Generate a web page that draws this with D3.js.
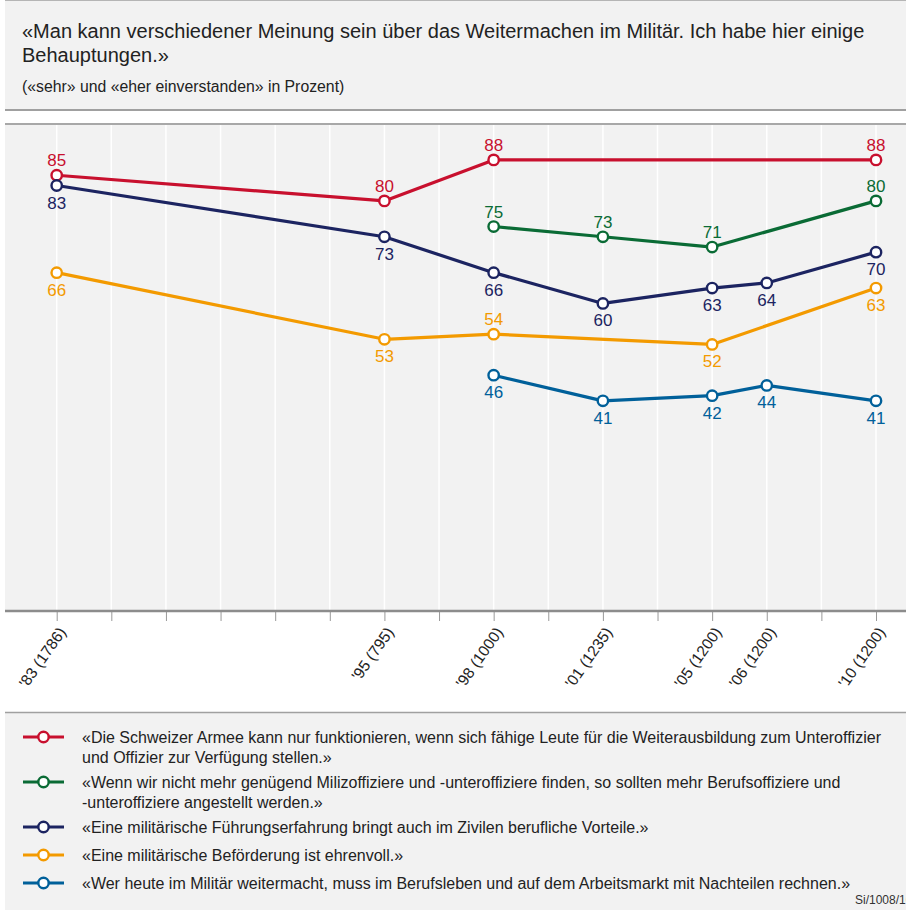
<!DOCTYPE html>
<html>
<head>
<meta charset="utf-8">
<script src="https://cdn.jsdelivr.net/npm/d3@7"></script>
<style>
  body { margin: 0; background: #fff; }
  svg { display: block; font-family: "Liberation Sans", Arial, sans-serif; }
</style>
</head>
<body>
<div id="chart"></div>
<script>
// survey waves (16 slots on the axis, empty ones have no label)
const periods = ["'83 (1786)", "", "", "", "", "", "'95 (795)", "", "'98 (1000)", "", "'01 (1235)", "", "'05 (1200)", "'06 (1200)", "", "'10 (1200)"];

const armee    = [85, null, null, null, null, null, 80, null, 88, null, null, null, null, null, null, 88];
const berufsof = [null, null, null, null, null, null, null, null, 75, null, 73, null, 71, null, null, 80];
const vorteile = [83, null, null, null, null, null, 73, null, 66, null, 60, null, 63, 64, null, 70];
const ehrenvoll = [66, null, null, null, null, null, 53, null, 54, null, null, null, 52, null, null, 63];
const nachteile = [null, null, null, null, null, null, null, null, 46, null, 41, null, 42, 44, null, 41];

const legendTexts = [
  ["«Die Schweizer Armee kann nur funktionieren, wenn sich fähige Leute für die Weiterausbildung zum Unteroffizier", "und Offizier zur Verfügung stellen.»"],
  ["«Wenn wir nicht mehr genügend Milizoffiziere und -unteroffiziere finden, so sollten mehr Berufsoffiziere und", "-unteroffiziere angestellt werden.»"],
  ["«Eine militärische Führungserfahrung bringt auch im Zivilen berufliche Vorteile.»"],
  ["«Eine militärische Beförderung ist ehrenvoll.»"],
  ["«Wer heute im Militär weitermacht, muss im Berufsleben und auf dem Arbeitsmarkt mit Nachteilen rechnen.»"]
];

const series = [
  { values: armee, color: '#c8102e', above: () => true },
  { values: berufsof, color: '#0a6b35', above: () => true },
  { values: vorteile, color: '#1c2461', above: () => false },
  { values: ehrenvoll, color: '#f39a00', above: (i) => i === 8 },
  { values: nachteile, color: '#00609a', above: () => false }
];

const W = 906, H = 910;
const PLOT = { TOP: 125, BOTTOM: 611, LEFT: 5 };

const svg = d3.select('#chart').append('svg')
  .attr('width', W).attr('height', H);

// title panel
svg.append('rect').attr('x', 5).attr('y', 0).attr('width', W).attr('height', 110).attr('fill', '#f2f2f2');
svg.append('line').attr('x1', 5).attr('x2', W).attr('y1', 0.5).attr('y2', 0.5).attr('stroke', '#b5b5b5');
svg.append('line').attr('x1', 5).attr('x2', W).attr('y1', 110).attr('y2', 110).attr('stroke', '#a0a0a0').attr('stroke-width', 2);

svg.append('text').attr('x', 22).attr('y', 38).attr('font-size', 20).attr('fill', '#222')
  .text('«Man kann verschiedener Meinung sein über das Weitermachen im Militär. Ich habe hier einige');
svg.append('text').attr('x', 22).attr('y', 62).attr('font-size', 20).attr('fill', '#222')
  .text('Behauptungen.»');
svg.append('text').attr('x', 22).attr('y', 91.5).attr('font-size', 15.8).attr('fill', '#222')
  .text('(«sehr» und «eher einverstanden» in Prozent)');

// plot panel
svg.append('rect').attr('x', PLOT.LEFT).attr('y', PLOT.TOP).attr('width', W).attr('height', PLOT.BOTTOM - PLOT.TOP)
  .attr('fill', '#f2f2f2');
svg.append('line').attr('x1', PLOT.LEFT).attr('x2', W).attr('y1', 124).attr('y2', 124)
  .attr('stroke', '#a8a8a8').attr('stroke-width', 2);

const x = d3.scalePoint()
  .domain(d3.range(periods.length))
  .range([56.7, 876]);

const y = d3.scaleLinear()
  .domain([0, 95])
  .range([611, 124]);

// vertical grid
svg.append('g').selectAll('line')
  .data(x.domain())
  .enter().append('line')
  .attr('x1', d => x(d)).attr('x2', d => x(d))
  .attr('y1', PLOT.TOP).attr('y2', PLOT.BOTTOM)
  .attr('stroke', '#fff').attr('stroke-width', 1.5);

// x axis
const xAxisGroup = svg.append('g')
  .attr('transform', `translate(0, ${PLOT.BOTTOM})`)
  .call(d3.axisBottom(x).tickSize(10).tickSizeOuter(0).tickFormat(i => periods[i]));
xAxisGroup.select('.domain').remove();
xAxisGroup.selectAll('.tick line').attr('stroke', '#999').attr('stroke-width', 1);
xAxisGroup.selectAll('.tick text')
  .attr('font-size', 15.5)
  .attr('font-family', '"Liberation Sans", Arial, sans-serif')
  .attr('fill', '#222')
  .attr('text-anchor', 'end')
  .attr('x', 0).attr('y', 0)
  .attr('dy', '0.35em')
  .attr('transform', 'translate(5, 18) rotate(-55)');

svg.append('line').attr('x1', PLOT.LEFT).attr('x2', W).attr('y1', 611).attr('y2', 611)
  .attr('stroke', '#8c8c8c').attr('stroke-width', 2.5);

// series
const line = d3.line()
  .x(d => x(d.i))
  .y(d => y(d.v));

series.forEach(s => {
  const pts = s.values.map((v, i) => ({ v, i })).filter(d => d.v !== null);
  svg.append('path')
    .datum(pts)
    .attr('d', line)
    .attr('fill', 'none')
    .attr('stroke', s.color)
    .attr('stroke-width', 3.2)
    .attr('stroke-linejoin', 'round');
});

series.forEach(s => {
  const pts = s.values.map((v, i) => ({ v, i })).filter(d => d.v !== null);
  const g = svg.append('g');
  g.selectAll('circle')
    .data(pts)
    .enter().append('circle')
    .attr('cx', d => x(d.i)).attr('cy', d => y(d.v))
    .attr('r', 5.2)
    .attr('fill', '#fff')
    .attr('stroke', s.color)
    .attr('stroke-width', 2.4);
  g.selectAll('text')
    .data(pts)
    .enter().append('text')
    .attr('x', d => x(d.i))
    .attr('y', d => y(d.v) + (s.above(d.i) ? -9 : 23))
    .attr('text-anchor', 'middle')
    .attr('font-size', 17)
    .attr('fill', s.color)
    .text(d => d.v);
});

// legend panel
svg.append('rect').attr('x', 5).attr('y', 713).attr('width', W).attr('height', H - 713).attr('fill', '#f2f2f2');
svg.append('line').attr('x1', 5).attr('x2', W).attr('y1', 712.5).attr('y2', 712.5)
  .attr('stroke', '#a0a0a0').attr('stroke-width', 1.5);

const legendY = [737, 782, 827, 855, 883];
series.forEach((s, k) => {
  const ly = legendY[k];
  const g = svg.append('g');
  g.append('line').attr('x1', 23).attr('x2', 64).attr('y1', ly).attr('y2', ly)
    .attr('stroke', s.color).attr('stroke-width', 3.2);
  g.append('circle').attr('cx', 43.5).attr('cy', ly).attr('r', 5.2)
    .attr('fill', '#fff').attr('stroke', s.color).attr('stroke-width', 2.4);
  legendTexts[k].forEach((t, j) => {
    g.append('text').attr('x', 82).attr('y', ly + 5.5 + j * 20)
      .attr('font-size', 16).attr('fill', '#222').text(t);
  });
});

svg.append('text').attr('x', 855).attr('y', 904).attr('font-size', 12).attr('fill', '#333')
  .text('Si/1008/10');
</script>
</body>
</html>
